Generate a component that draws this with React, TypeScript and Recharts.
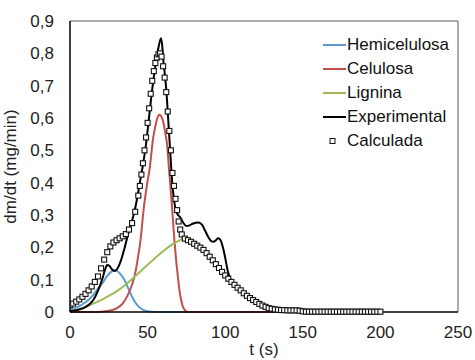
import React from "react";
import {
  ComposedChart,
  Line,
  Scatter,
  XAxis,
  YAxis,
  ReferenceLine,
} from "recharts";

// [t (s), dm/dt (mg/min)]
const hemicelulosa: [number, number][] = [
  [0, 0.008], [3, 0.012], [6, 0.018], [9, 0.027], [12, 0.038], [15, 0.053],
  [18, 0.072], [21, 0.09], [24, 0.112], [27, 0.126], [29.5, 0.129], [32, 0.12],
  [34, 0.108], [36, 0.09], [38, 0.068], [40, 0.047], [42, 0.03], [44, 0.018],
  [46, 0.01], [48, 0.005], [50, 0.002], [55, 0], [100, 0], [150, 0], [200, 0],
];

const celulosa: [number, number][] = [
  [0, 0], [15, 0], [20, 0.001], [25, 0.004], [30, 0.011], [34, 0.027],
  [37, 0.05], [40, 0.085], [42, 0.12], [44, 0.175], [45.5, 0.225],
  [47.5, 0.32], [49.5, 0.39], [51.5, 0.45], [53.5, 0.535], [55, 0.575],
  [56.5, 0.603], [57.5, 0.61], [58.5, 0.607], [60, 0.59], [61.5, 0.55],
  [62.5, 0.52], [64, 0.43], [65.5, 0.34], [67, 0.24], [68.5, 0.155],
  [69.5, 0.11], [70.5, 0.068], [71.5, 0.04], [72.5, 0.02], [73.5, 0.009],
  [75, 0.002], [77, 0], [100, 0], [150, 0], [200, 0],
];

const lignina: [number, number][] = [
  [0, 0.002], [5, 0.008], [10, 0.016], [15, 0.026], [20, 0.037], [25, 0.05],
  [30, 0.064], [35, 0.081], [40, 0.102], [45, 0.124], [50, 0.146],
  [55, 0.168], [60, 0.188], [65, 0.206], [70, 0.22], [73, 0.226],
  [76, 0.223], [80, 0.212], [85, 0.197], [90, 0.175], [95, 0.148],
  [100, 0.118], [105, 0.09], [110, 0.066], [115, 0.047], [120, 0.031],
  [125, 0.019], [130, 0.011], [135, 0.007], [140, 0.005], [150, 0.003],
  [160, 0.001], [200, 0],
];

const experimental: [number, number][] = [
  [0, 0.003], [3, 0.005], [6, 0.008], [9, 0.013], [12, 0.022], [15, 0.037],
  [17, 0.055], [19, 0.078], [21, 0.105], [22.5, 0.13], [24, 0.145],
  [25.5, 0.142], [27, 0.132], [29, 0.127], [31, 0.138], [33, 0.162],
  [35, 0.195], [37, 0.232], [39, 0.268], [41, 0.3], [43, 0.345], [45, 0.4],
  [47, 0.455], [49, 0.52], [51, 0.605], [53, 0.69], [55, 0.76], [57, 0.818],
  [58.6, 0.847], [59.5, 0.82], [60.1, 0.78], [61, 0.74], [62, 0.69],
  [63.3, 0.594], [64.9, 0.47], [65.7, 0.41], [66.7, 0.36], [67.7, 0.326],
  [69, 0.305], [71, 0.293], [73, 0.276], [75, 0.266], [77, 0.268],
  [79, 0.273], [81, 0.276], [83, 0.277], [85, 0.27], [87, 0.252],
  [89, 0.233], [91, 0.219], [92.5, 0.217], [94, 0.222], [95.5, 0.228],
  [97, 0.222], [98.5, 0.2], [100, 0.168], [101.5, 0.13], [103, 0.105],
  [105, 0.088], [108, 0.073], [111, 0.06], [114, 0.048], [117, 0.038],
  [120, 0.03], [125, 0.02], [130, 0.013], [135, 0.008], [140, 0.006],
  [145, 0.005], [150, 0.005], [155, 0.004], [158, 0.003],
];

const calculada: [number, number][] = [
  [0, 0.022], [2, 0.026], [4, 0.032], [6, 0.039], [8, 0.047], [10, 0.056],
  [12, 0.067], [14, 0.079], [16, 0.093], [18, 0.11], [20, 0.135],
  [22, 0.162], [24, 0.185], [26, 0.203], [28, 0.215], [30, 0.222],
  [32, 0.228], [34, 0.234], [36, 0.241], [38, 0.255], [40, 0.275],
  [42, 0.31], [44, 0.36], [45, 0.39], [46, 0.425], [47, 0.46], [48, 0.5],
  [49, 0.54], [50, 0.585], [51, 0.63], [52, 0.675], [53, 0.715],
  [54, 0.745], [55, 0.77], [56, 0.787], [57, 0.797], [58, 0.8], [59, 0.79],
  [60, 0.76], [61, 0.725], [62, 0.68], [63, 0.62], [64, 0.56], [65, 0.5],
  [66, 0.43], [67, 0.39], [68, 0.35], [69, 0.315], [70, 0.28], [71, 0.255],
  [72, 0.24], [74, 0.227], [76, 0.222], [78, 0.217], [80, 0.211],
  [82, 0.205], [84, 0.199], [86, 0.192], [88, 0.182], [90, 0.171],
  [92, 0.16], [94, 0.148], [96, 0.136], [98, 0.124], [100, 0.113],
  [102, 0.103], [104, 0.093], [106, 0.084], [108, 0.075], [110, 0.067],
  [112, 0.058], [114, 0.05], [116, 0.043], [118, 0.037], [120, 0.031],
  [122, 0.025], [124, 0.02], [126, 0.016], [128, 0.012], [130, 0.01],
  [132, 0.008], [134, 0.007], [136, 0.006], [138, 0.006], [140, 0.005],
  [142, 0.005], [144, 0.005], [146, 0.005], [148, 0.004], [150, 0.002],
  [152, 0.001], [154, 0.001], [156, 0.001], [158, 0.001], [160, 0.001],
  [162, 0.001], [164, 0.001], [166, 0.001], [168, 0.001], [170, 0.001],
  [172, 0.001], [174, 0.001], [176, 0.001], [178, 0.001], [180, 0.001],
  [182, 0.001], [184, 0.001], [186, 0.001], [188, 0.001], [190, 0.001],
  [192, 0.001], [194, 0.001], [196, 0.001], [198, 0.001], [200, 0.001],
];

const xTicks = [0, 50, 100, 150, 200, 250];
const yTicks = [0, 0.1, 0.2, 0.3, 0.4, 0.5, 0.6, 0.7, 0.8, 0.9];

const FONT = "'Liberation Sans', Arial, sans-serif";
const toRows = (pts: [number, number][]) => pts.map(([t, y]) => ({ t, y }));

const legendItems = [
  { name: "Hemicelulosa", color: "#5b9bd5", marker: false },
  { name: "Celulosa", color: "#c0504d", marker: false },
  { name: "Lignina", color: "#9bbb59", marker: false },
  { name: "Experimental", color: "#000000", marker: false },
  { name: "Calculada", color: "#000000", marker: true },
];

const Square = (props: any) => {
  const { cx, cy } = props;
  if (cx == null || cy == null) return null;
  return (
    <rect x={cx - 2.5} y={cy - 2.5} width={5} height={5} fill="#fff" stroke="#111" strokeWidth={1.1} />
  );
};

const LegendBox = () => (
  <div style={{ position: "absolute", left: 322, top: 33, fontFamily: FONT, fontSize: 17, color: "#111" }}>
    {legendItems.map((it) => (
      <div key={it.name} style={{ display: "flex", alignItems: "center", height: 24 }}>
        <svg width={25} height={24} style={{ display: "block" }}>
          {it.marker ? (
            <rect x={8} y={9.5} width={5} height={5} fill="#fff" stroke="#111" strokeWidth={1} />
          ) : (
            <line x1={1} y1={12} x2={24} y2={12} stroke={it.color} strokeWidth={2} />
          )}
        </svg>
        <span style={{ lineHeight: "24px", whiteSpace: "nowrap" }}>{it.name}</span>
      </div>
    ))}
  </div>
);

const fmt = (v: number) => (v === 0 ? "0" : v.toFixed(1).replace(".", ","));

export default function App() {
  return (
    <div style={{ position: "absolute", left: 0, top: 0, width: 475, height: 360, background: "#fff" }}>
      <ComposedChart width={475} height={360} margin={{ top: 21, right: 17, bottom: 0, left: 10 }}>
        <XAxis
          dataKey="t"
          type="number"
          domain={[0, 250]}
          ticks={xTicks}
          allowDataOverflow
          tickLine={false}
          tickMargin={8}
          height={48}
          axisLine={{ stroke: "#000", strokeWidth: 1.5 }}
          tick={{ fontSize: 17, fill: "#222", fontFamily: FONT }}
          label={{ value: "t (s)", position: "insideBottom", offset: 5, style: { fontSize: 17, fill: "#222", fontFamily: FONT } }}
        />
        <YAxis
          type="number"
          domain={[0, 0.9]}
          ticks={yTicks}
          tickFormatter={fmt}
          width={60}
          tickLine={false}
          tickMargin={10}
          axisLine={{ stroke: "#000", strokeWidth: 1.5 }}
          tick={{ fontSize: 17, fill: "#222", fontFamily: FONT }}
          label={{ value: "dm/dt (mg/min)", angle: -90, position: "insideLeft", offset: 0, style: { fontSize: 17, fill: "#222", fontFamily: FONT, textAnchor: "middle" } }}
        />
        <ReferenceLine y={0.9} stroke="#595959" strokeWidth={1} />
        <ReferenceLine x={250} stroke="#595959" strokeWidth={1} />
        <Line data={toRows(hemicelulosa)} dataKey="y" type="monotone" stroke="#5b9bd5" strokeWidth={2} dot={false} isAnimationActive={false} />
        <Line data={toRows(celulosa)} dataKey="y" type="monotone" stroke="#c0504d" strokeWidth={2} dot={false} isAnimationActive={false} />
        <Line data={toRows(lignina)} dataKey="y" type="monotone" stroke="#9bbb59" strokeWidth={2} dot={false} isAnimationActive={false} />
        <Line data={toRows(experimental)} dataKey="y" type="monotone" stroke="#000" strokeWidth={2} dot={false} isAnimationActive={false} />
        <Scatter data={toRows(calculada)} dataKey="y" shape={Square} isAnimationActive={false} />
      </ComposedChart>
      <LegendBox />
    </div>
  );
}
